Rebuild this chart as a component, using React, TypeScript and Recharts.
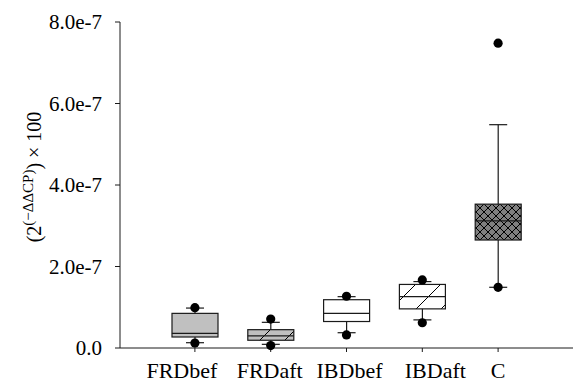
import React from 'react';
import { ComposedChart, Bar, Scatter, XAxis, YAxis } from 'recharts';

// Values (units: raw value, axis shows x 1e-7)
const groups = ['FRDbef', 'FRDaft', 'IBDbef', 'IBDaft', 'C'];
const lowDots = [0.12e-7, 0.06e-7, 0.32e-7, 0.62e-7, 1.49e-7];
const lowCaps = [0.13e-7, 0.09e-7, 0.375e-7, 0.69e-7, 1.49e-7];
const q1s = [0.27e-7, 0.19e-7, 0.65e-7, 0.96e-7, 2.65e-7];
const medians = [0.36e-7, 0.30e-7, 0.85e-7, 1.26e-7, 3.12e-7];
const q3s = [0.85e-7, 0.45e-7, 1.185e-7, 1.56e-7, 3.53e-7];
const highCaps = [0.98e-7, 0.63e-7, 1.26e-7, 1.63e-7, 5.48e-7];
const highDots = [0.99e-7, 0.71e-7, 1.27e-7, 1.67e-7, 7.48e-7];
const fills = ['#c0c0c0', 'url(#hatchGray)', '#ffffff', 'url(#hatchWhite)', 'url(#crossHatch)'];

const yTicks = [0, 2e-7, 4e-7, 6e-7, 8e-7];

const data = groups.map((name, i) => ({
  name,
  whisker: [lowCaps[i], highCaps[i]],
  box: [q1s[i], q3s[i]],
  med: medians[i],
  lo: lowDots[i],
  hi: highDots[i],
  fill: fills[i],
}));

const FONT = '"Liberation Serif", "Times New Roman", serif';
const INK = '#1a1a1a';
const BOX_W = 46;
const CAP_W = 18;
const PAD = { left: 37, right: 37 };
// the original's category labels are not quite centred under the boxes
const LABEL_DX = [-13, -1, 3, 13, 0];

const fmtY = (v: number) => (v === 0 ? '0.0' : `${(v / 1e-7).toFixed(1)}e-7`);

const WhiskerShape = (props: any) => {
  const { x, y, width, height } = props;
  if (x == null || isNaN(y)) return null;
  const cx = x + width / 2;
  return (
    <g stroke={INK} strokeWidth={1.2}>
      <line x1={cx} x2={cx} y1={y} y2={y + height} />
      <line x1={cx - CAP_W / 2} x2={cx + CAP_W / 2} y1={y} y2={y} />
      <line x1={cx - CAP_W / 2} x2={cx + CAP_W / 2} y1={y + height} y2={y + height} />
    </g>
  );
};

const BoxShape = (props: any) => {
  const { x, y, width, height, payload } = props;
  return <rect x={x} y={y} width={width} height={height} fill={payload.fill} stroke={INK} strokeWidth={1.2} />;
};

const MedianShape = (props: any) => {
  const { cx, cy } = props;
  return <line x1={cx - BOX_W / 2} x2={cx + BOX_W / 2} y1={cy} y2={cy} stroke={INK} strokeWidth={1.2} />;
};

const DotShape = (props: any) => <circle cx={props.cx} cy={props.cy} r={4.6} fill="#000" />;

const CategoryTick = (props: any) => {
  const { x, y, payload, index } = props;
  return (
    <text x={x + (LABEL_DX[index] || 0)} y={y} dy="0.71em" textAnchor="middle" fontFamily={FONT} fontSize={22} fill="#000">
      {payload.value}
    </text>
  );
};

const YLabel = ({ viewBox }: any) => {
  const cx = viewBox.x + 41;
  const cy = viewBox.y + viewBox.height / 2 - 8;
  return (
    <text
      x={cx}
      y={cy}
      transform={`rotate(-90, ${cx}, ${cy})`}
      textAnchor="middle"
      fontFamily={FONT}
      fontSize={20}
      fill="#000"
    >
      (2
      <tspan dy={-8} fontSize={15}>(−ΔΔCP)</tspan>
      <tspan dy={8}>) × 100</tspan>
    </text>
  );
};

export default function App() {
  return (
    <div style={{ position: 'absolute', left: 0, top: 0, background: '#fff' }}>
      <svg width={0} height={0} style={{ position: 'absolute' }}>
        <defs>
          <pattern id="hatchGray" patternUnits="userSpaceOnUse" width={25} height={25}>
            <rect width={25} height={25} fill="#c0c0c0" />
            <line x1={0} y1={25} x2={25} y2={0} stroke="#000" strokeWidth={1} />
          </pattern>
          <pattern id="hatchWhite" patternUnits="userSpaceOnUse" width={25} height={25}>
            <rect width={25} height={25} fill="#fff" />
            <line x1={0} y1={25} x2={25} y2={0} stroke="#000" strokeWidth={1} />
          </pattern>
          <pattern id="crossHatch" patternUnits="userSpaceOnUse" width={8} height={8}>
            <rect width={8} height={8} fill="#808080" />
            <line x1={0} y1={0} x2={8} y2={8} stroke="#000" strokeWidth={1} />
            <line x1={0} y1={8} x2={8} y2={0} stroke="#000" strokeWidth={1} />
          </pattern>
        </defs>
      </svg>
      <ComposedChart width={574} height={383} data={data} margin={{ top: 22, right: 1, bottom: 0, left: 0 }}>
        <XAxis
          dataKey="name"
          padding={PAD}
          height={35}
          tickSize={4}
          tickMargin={10}
          axisLine={{ stroke: INK }}
          tickLine={{ stroke: INK }}
          tick={<CategoryTick />}
          interval={0}
        />
        <XAxis xAxisId="w" dataKey="name" padding={PAD} hide />
        <XAxis xAxisId="b" dataKey="name" padding={PAD} hide />
        <YAxis
          width={120}
          domain={[0, 8e-7]}
          ticks={yTicks}
          tickFormatter={fmtY}
          tickSize={5}
          tickMargin={13}
          axisLine={{ stroke: INK }}
          tickLine={{ stroke: INK }}
          tick={{ fontFamily: FONT, fontSize: 21, fill: '#000' }}
          label={<YLabel />}
        />
        <Bar xAxisId="w" dataKey="whisker" barSize={BOX_W} shape={<WhiskerShape />} isAnimationActive={false} />
        <Bar xAxisId="b" dataKey="box" barSize={BOX_W} shape={<BoxShape />} isAnimationActive={false} />
        <Scatter dataKey="med" shape={<MedianShape />} isAnimationActive={false} />
        <Scatter dataKey="lo" shape={<DotShape />} isAnimationActive={false} />
        <Scatter dataKey="hi" shape={<DotShape />} isAnimationActive={false} />
      </ComposedChart>
    </div>
  );
}
